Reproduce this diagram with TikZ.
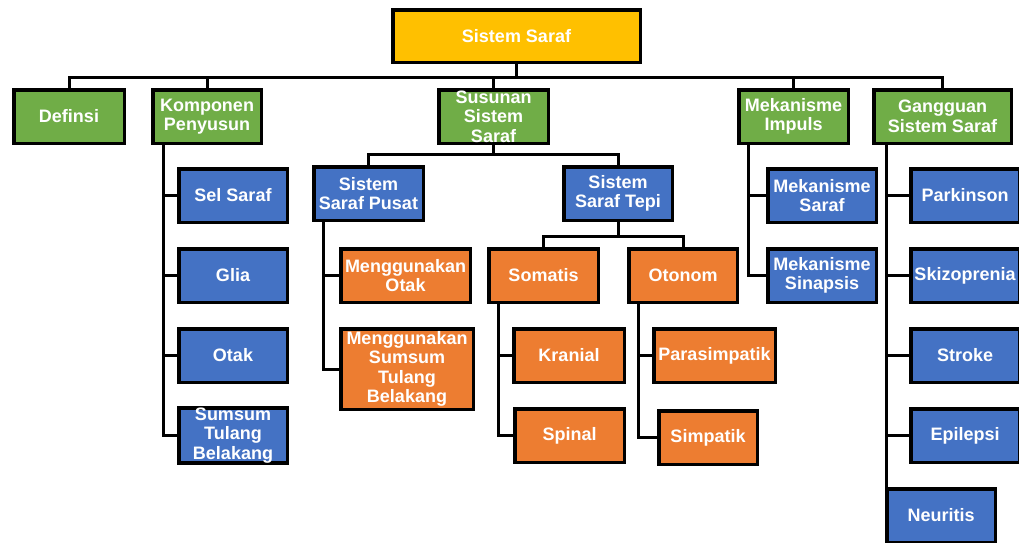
\documentclass[tikz,border=0pt]{standalone}
\usepackage{fontspec}
\setmainfont{Liberation Sans}
\usepackage{tikz}

\definecolor{kuning}{HTML}{FFC000}
\definecolor{hijau}{HTML}{70AD47}
\definecolor{biru}{HTML}{4472C4}
\definecolor{oranye}{HTML}{ED7D31}

\begin{document}
\begin{tikzpicture}[x=1pt, y=-1pt, line width=3pt,
    kotak/.style={draw=black, line width=3.5pt, text=white, align=center, inner sep=0pt,
                  minimum width=108.5pt, minimum height=53.5pt,
                  font=\bfseries\fontsize{18}{19.5}\selectfont},
    akar/.style={kotak, fill=kuning, minimum width=247.5pt, minimum height=52.5pt},
    hijaubox/.style={kotak, fill=hijau},
    birubox/.style={kotak, fill=biru},
    oranyebox/.style={kotak, fill=oranye}]
    \useasboundingbox (0,0) rectangle (1019,542);
    \clip (0,0) rectangle (1019,542);

    \node[akar]      (SS)   at (516.5,36)    {Sistem Saraf};

    \node[hijaubox, minimum width=110.5pt]  (DEF)  at (69,116.5)    {Definsi};
    \node[hijaubox]                         (KP)   at (207,116.5)   {Komponen\\Penyusun};
    \node[hijaubox, minimum width=109.5pt]  (SSS)  at (493.5,116.5) {Susunan\\Sistem\\Saraf};
    \node[hijaubox, minimum width=109.5pt]  (MI)   at (793.5,116.5) {Mekanisme\\Impuls};
    \node[hijaubox, minimum width=137.5pt]  (GSS)  at (942.5,116.5) {Gangguan\\Sistem Saraf};

    \node[birubox]   (SEL)  at (233,195.5)   {Sel Saraf};
    \node[birubox]   (GLIA) at (233,275.5)   {Glia};
    \node[birubox]   (OTAK) at (233,355.5)   {Otak};
    \node[birubox]   (STB)  at (233,435.5)   {Sumsum\\Tulang\\Belakang};

    \node[birubox, minimum width=109.5pt]   (SSP)  at (368.5,193.5) {Sistem\\Saraf Pusat};
    \node[birubox]                          (SST)  at (618,193.5)   {Sistem\\Saraf Tepi};

    \node[oranyebox, minimum width=129.5pt] (MO)   at (405.5,275.5) {Menggunakan\\Otak};
    \node[oranyebox, minimum width=132.5pt, minimum height=80.5pt] (MST) at (407,369) {Menggunakan\\Sumsum\\Tulang\\Belakang};
    \node[oranyebox, minimum width=109.5pt] (SOM)  at (543.5,275.5) {Somatis};
    \node[oranyebox]                        (OTO)  at (683,275.5)   {Otonom};
    \node[oranyebox, minimum width=110.5pt] (KRA)  at (569,355.5)   {Kranial};
    \node[oranyebox, minimum width=109.5pt] (SPI)  at (569.5,435.5) {Spinal};
    \node[oranyebox, minimum width=121.5pt] (PARA) at (714.5,355.5) {Parasimpatik};
    \node[oranyebox, minimum width=98.5pt]  (SIM)  at (708,437.5)   {Simpatik};

    \node[birubox]   (MS)   at (822,195.5)   {Mekanisme\\Saraf};
    \node[birubox]   (MSI)  at (822,275.5)   {Mekanisme\\Sinapsis};

    \node[birubox]   (PAR)  at (965,195.5)   {Parkinson};
    \node[birubox]   (SKI)  at (965,275.5)   {Skizoprenia};
    \node[birubox]   (STR)  at (965,355.5)   {Stroke};
    \node[birubox]   (EPI)  at (965,435.5)   {Epilepsi};
    \node[birubox]   (NEU)  at (941,515.5)   {Neuritis};

    \coordinate (B1) at (516.5,77);
    \coordinate (B2) at (493.5,154);
    \coordinate (B3) at (618,236);
    \coordinate (TG) at ([xshift=14pt]GSS.south west);

    \foreach \n in {DEF,KP,SSS,MI,GSS}
        \draw (SS.south) -- (B1) -| (\n.north);
    \foreach \n in {SSP,SST}
        \draw (SSS.south) -- (B2) -| (\n.north);
    \foreach \n in {SOM,OTO}
        \draw (SST.south) -- (B3) -| (\n.north);

    \foreach \n in {SEL,GLIA,OTAK,STB}
        \draw ([xshift=12pt]KP.south west) |- (\n.west);
    \foreach \n in {MO,MST}
        \draw ([xshift=11pt]SSP.south west) |- (\n.west);
    \foreach \n in {KRA,SPI}
        \draw ([xshift=11pt]SOM.south west) |- (\n.west);
    \foreach \n in {PARA,SIM}
        \draw ([xshift=11pt]OTO.south west) |- (\n.west);
    \foreach \n in {MS,MSI}
        \draw ([xshift=11pt]MI.south west) |- (\n.west);
    \foreach \n in {PAR,SKI,STR,EPI}
        \draw (TG) |- (\n.west);
    \draw (TG) -- (TG |- NEU.north);
\end{tikzpicture}
\end{document}
